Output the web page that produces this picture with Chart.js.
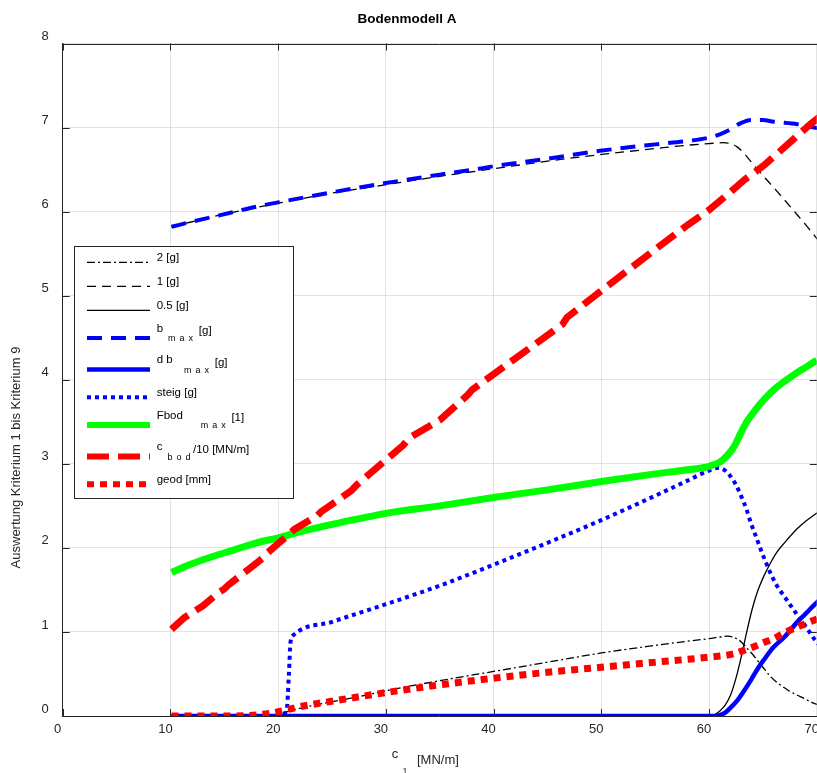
<!DOCTYPE html>
<html><head><meta charset="utf-8">
<script src="https://cdn.jsdelivr.net/npm/chart.js@4/dist/chart.umd.min.js"></script>
<style>html,body{margin:0;padding:0;overflow:hidden;background:#fff}canvas{display:block}</style>
</head><body>
<canvas id="c" width="830" height="773" style="width:830px;height:773px"></canvas>
<script>
// ---------- data ----------
const titleText = 'Bodenmodell A';
const yAxisTitle = 'Auswertung Kriterium 1 bis Kriterium 9';
const xAxisMain = 'c';
const xAxisSub = '1';
const xAxisUnit = '[MN/m]';
const xRange = [0, 70];
const yRange = [0, 8];
const tickStepX = 10;
const tickStepY = 1;
const seriesLabels = ['2 [g]', '1 [g]', '0.5 [g]', 'b_{max} [g]', 'd b  _{max} [g]', 'steig [g]', 'Fbod    _{max} [1]', 'c_{bod}/10 [MN/m]', 'geod [mm]'];

const x_g2 = [10.1, 18.5, 19.5, 20.5, 21.3, 25, 27.5, 30, 35, 40, 45, 50, 55, 58, 60, 61, 61.7, 62.4, 63, 63.5, 64, 64.5, 65, 65.7, 66.5, 67.3, 68, 68.8, 69.75, 70.5];
const y_g2 = [0, 0, 0.01, 0.04, 0.07, 0.17, 0.23, 0.30, 0.42, 0.53, 0.64, 0.75, 0.84, 0.89, 0.92, 0.94, 0.95, 0.93, 0.88, 0.81, 0.74, 0.66, 0.58, 0.47, 0.38, 0.31, 0.26, 0.21, 0.15, 0.12];

const x_g1 = [10.1, 15, 20, 25, 30, 35, 40, 45, 50, 55, 58, 60, 61.3, 62, 62.6, 63.2, 63.6, 64.5, 65.7, 67, 68.2, 69, 69.75, 70.5];
const y_g1 = [5.82, 5.97, 6.10, 6.22, 6.32, 6.42, 6.51, 6.60, 6.68, 6.75, 6.79, 6.81, 6.82, 6.81, 6.77, 6.70, 6.64, 6.50, 6.33, 6.14, 5.96, 5.84, 5.72, 5.60];

const x_g05 = [10.1, 60, 60.5, 61, 61.5, 62, 62.5, 63, 63.5, 64, 64.5, 65, 65.7, 66.3, 67, 68.2, 69, 69.75, 70.5];
const y_g05 = [0, 0, 0.015, 0.06, 0.13, 0.25, 0.45, 0.71, 1.00, 1.27, 1.48, 1.64, 1.82, 1.95, 2.06, 2.23, 2.32, 2.39, 2.46];

const x_bmax = [10.1, 12, 14, 16, 18, 20, 25, 30, 35, 38.6, 40, 45, 49.7, 55, 58, 60, 61, 62, 62.9, 63.9, 65, 66, 68.2, 69.75, 70.5];
const y_bmax = [5.82, 5.88, 5.94, 6.00, 6.06, 6.11, 6.23, 6.34, 6.44, 6.51, 6.54, 6.63, 6.72, 6.80, 6.84, 6.88, 6.92, 6.98, 7.05, 7.09, 7.09, 7.07, 7.04, 7.00, 6.99];

const x_dbmax = [10.1, 60.5, 61, 61.5, 62, 62.65, 63.3, 63.9, 64.5, 65.1, 66, 67, 68.2, 69, 69.75, 70.5];
const y_dbmax = [0, 0, 0.01, 0.04, 0.10, 0.19, 0.31, 0.43, 0.56, 0.67, 0.82, 0.94, 1.12, 1.22, 1.32, 1.41];

const x_steig = [10.1, 20.0, 20.4, 20.8, 21.0, 21.15, 21.4, 25, 30, 35, 40, 45, 50, 55, 58, 60, 60.8, 61.5, 62, 62.5, 63, 63.5, 63.9, 64.4, 64.8, 65.7, 66.3, 67, 68.2, 69, 69.75, 70.5];
const y_steig = [0, 0, 0.02, 0.08, 0.5, 0.88, 0.96, 1.12, 1.33, 1.55, 1.80, 2.06, 2.33, 2.62, 2.80, 2.92, 2.95, 2.92, 2.85, 2.75, 2.61, 2.45, 2.29, 2.12, 1.98, 1.70, 1.55, 1.42, 1.20, 1.06, 0.92, 0.80];

const x_fbod = [10.1, 12, 14, 16, 18, 20, 22, 25, 28, 30, 35, 40, 45, 50, 55, 58, 60, 61, 61.7, 62.3, 63, 63.5, 64.3, 65, 66, 67, 68, 69, 70, 70.5];
const y_fbod = [1.71, 1.81, 1.90, 1.98, 2.06, 2.12, 2.19, 2.28, 2.36, 2.41, 2.50, 2.60, 2.69, 2.79, 2.88, 2.93, 2.97, 3.02, 3.10, 3.20, 3.38, 3.50, 3.64, 3.75, 3.88, 3.98, 4.07, 4.15, 4.23, 4.26];

const x_cbod = [10.1, 10.6, 11.3, 13.0, 14.6, 15.0, 15.4, 17.5, 18.6, 19.0, 21.0, 21.5, 23.6, 24.0, 26.8, 27.3, 31.6, 32.2, 35.0, 37.6, 38.0, 46.4, 46.8, 50, 55, 58, 60, 61.5, 63.3, 65.1, 67.3, 69.4, 70.5];
const y_cbod = [1.03, 1.09, 1.17, 1.31, 1.48, 1.51, 1.56, 1.77, 1.88, 1.94, 2.16, 2.22, 2.38, 2.43, 2.68, 2.75, 3.22, 3.31, 3.52, 3.82, 3.88, 4.66, 4.74, 5.06, 5.55, 5.84, 6.02, 6.18, 6.38, 6.55, 6.80, 7.04, 7.15];

const x_geod = [10.1, 15, 17, 18.5, 19.6, 22, 25.65, 30.6, 35, 40, 45, 50, 55, 60, 62.3, 63, 63.9, 65, 66, 67, 68.2, 69, 69.75, 70.5];
const y_geod = [0, 0, 0.005, 0.02, 0.04, 0.11, 0.19, 0.29, 0.37, 0.45, 0.52, 0.58, 0.64, 0.70, 0.74, 0.77, 0.81, 0.87, 0.92, 0.99, 1.06, 1.10, 1.14, 1.18];

// ---------- styles ----------
const FONT = '"Liberation Sans", Arial, Helvetica, sans-serif';
const AX = '#262626';
const pts = (xs, ys) => xs.map((x, i) => ({x: x, y: ys[i]}));
const series = [
  {xs: x_g2, ys: y_g2, color: '#000000', w: 1.3, dash: [8, 3, 2, 3], smooth: true},
  {xs: x_g1, ys: y_g1, color: '#000000', w: 1.3, dash: [9, 6], smooth: true},
  {xs: x_g05, ys: y_g05, color: '#000000', w: 1.3, dash: [], smooth: true},
  {xs: x_bmax, ys: y_bmax, color: '#0000ff', w: 4, dash: [15, 9], smooth: true},
  {xs: x_dbmax, ys: y_dbmax, color: '#0000ff', w: 4.5, dash: [], smooth: true},
  {xs: x_steig, ys: y_steig, color: '#0000ff', w: 4, dash: [4, 4], smooth: true},
  {xs: x_fbod, ys: y_fbod, color: '#00ff00', w: 7, dash: [], smooth: true},
  {xs: x_cbod, ys: y_cbod, color: '#ff0000', w: 7, dash: [22, 9], smooth: false},
  {xs: x_geod, ys: y_geod, color: '#ff0000', w: 7, dash: [7, 6], smooth: true}
];

const datasets = series.map((s, i) => ({
  label: seriesLabels[i],
  data: pts(s.xs, s.ys),
  borderColor: s.color,
  backgroundColor: s.color,
  borderWidth: s.w,
  borderDash: s.dash,
  pointRadius: 0,
  fill: false,
  tension: 0,
  cubicInterpolationMode: s.smooth ? 'monotone' : 'default',
  order: series.length - i
}));

function drawRich(ctx, text, x, yLine) {
  const mainFont = '11.5px ' + FONT;
  const subFont = '9px ' + FONT;
  ctx.textBaseline = 'middle';
  ctx.textAlign = 'left';
  ctx.fillStyle = '#000';
  const m = text.match(/_\{([^}]*)\}/);
  if (!m) { ctx.font = mainFont; ctx.fillText(text, x, yLine - 4.5); return; }
  const pre = text.slice(0, m.index), sub = m[1], post = text.slice(m.index + m[0].length);
  ctx.font = mainFont;
  ctx.fillText(pre, x, yLine - 9.5);
  let cx = x + ctx.measureText(pre).width + 5;
  ctx.font = subFont;
  for (const ch of sub) { ctx.fillText(ch, cx, yLine + 0.5); cx += ctx.measureText(ch).width + 4; }
  cx -= 4;
  ctx.font = mainFont;
  ctx.fillText(post, cx + 2.5, yLine - 7);
}

const matlabPlugin = {
  id: 'matlab',
  beforeDatasetsDraw(chart) {
    const {ctx, chartArea: a, scales} = chart;
    ctx.save();
    ctx.strokeStyle = AX; ctx.lineWidth = 1;
    ctx.beginPath();
    ctx.moveTo(a.left, Math.round(a.top) + 0.5); ctx.lineTo(a.right, Math.round(a.top) + 0.5);
    ctx.moveTo(Math.round(a.right) + 0.5, a.top); ctx.lineTo(Math.round(a.right) + 0.5, a.bottom);
    const tl = 7;
    scales.x.ticks.forEach(t => {
      const px = Math.round(scales.x.getPixelForValue(t.value)) + 0.5;
      ctx.moveTo(px, a.bottom); ctx.lineTo(px, a.bottom - tl);
      ctx.moveTo(px, a.top); ctx.lineTo(px, a.top + tl);
    });
    scales.y.ticks.forEach(t => {
      const py = Math.round(scales.y.getPixelForValue(t.value)) + 0.5;
      ctx.moveTo(a.left, py); ctx.lineTo(a.left + tl, py);
      ctx.moveTo(a.right, py); ctx.lineTo(a.right - tl, py);
    });
    ctx.stroke();
    ctx.restore();
  },
  afterDatasetsDraw(chart) {
    const ctx = chart.ctx;
    ctx.save();
    // legend box
    ctx.fillStyle = '#fff';
    ctx.fillRect(74.5, 246.5, 219, 252);
    ctx.strokeStyle = AX; ctx.lineWidth = 1;
    ctx.strokeRect(74.5, 246.5, 219, 252);
    let y = 262.3, prevH = null;
    chart.data.datasets.forEach((ds, i) => {
      const h = /_\{/.test(ds.label) ? 31.5 : 24;
      if (prevH !== null) y += (prevH + h) / 2;
      prevH = h;
      ctx.save();
      ctx.strokeStyle = ds.borderColor;
      ctx.lineWidth = Math.min(ds.borderWidth, 6);
      ctx.setLineDash(ds.borderDash);
      ctx.beginPath();
      ctx.moveTo(87, y); ctx.lineTo(150, y);
      ctx.stroke();
      ctx.restore();
      drawRich(ctx, ds.label, 156.7, y);
    });
    ctx.restore();
  },
  afterDraw(chart) {
    const ctx = chart.ctx;
    ctx.save();
    ctx.fillStyle = '#000';
    ctx.textAlign = 'center'; ctx.textBaseline = 'middle';
    ctx.font = 'bold 13.5px ' + FONT;
    ctx.fillText(titleText, 407, 19);
    ctx.fillStyle = AX;
    ctx.font = '13px ' + FONT;
    ctx.save();
    ctx.translate(16, 457.5); ctx.rotate(-Math.PI / 2);
    ctx.fillText(yAxisTitle, 0, 0);
    ctx.restore();
    ctx.font = '13px ' + FONT;
    ctx.fillText(xAxisMain, 395, 754);
    ctx.font = '9px ' + FONT;
    ctx.fillText(xAxisSub, 405, 772);
    ctx.font = '13px ' + FONT;
    ctx.textAlign = 'left';
    ctx.fillText(xAxisUnit, 417, 760);
    ctx.restore();
  }
};

new Chart(document.getElementById('c'), {
  type: 'line',
  data: {datasets: datasets},
  plugins: [matlabPlugin],
  options: {
    responsive: false,
    animation: false,
    events: [],
    devicePixelRatio: 1,
    layout: {padding: {top: 43.5, right: 10.6, bottom: 0, left: 0}},
    plugins: {legend: {display: false}, tooltip: {enabled: false}, title: {display: false}},
    scales: {
      x: {
        type: 'linear', min: xRange[0], max: xRange[1],
        afterFit: s => { s.height = 57; },
        ticks: {stepSize: tickStepX, color: AX, font: {family: FONT, size: 13}, padding: 6, labelOffset: -5, maxRotation: 0, autoSkip: false},
        grid: {color: 'rgba(38,38,38,0.13)', drawTicks: false, lineWidth: 1},
        border: {display: true, color: AX, width: 1}
      },
      y: {
        type: 'linear', min: yRange[0], max: yRange[1],
        afterFit: s => { s.width = 62.7; },
        ticks: {stepSize: tickStepY, color: AX, font: {family: FONT, size: 13}, padding: 14, labelOffset: -7},
        grid: {color: 'rgba(38,38,38,0.13)', drawTicks: false, lineWidth: 1},
        border: {display: true, color: AX, width: 1}
      }
    }
  }
});
</script>
</body></html>
